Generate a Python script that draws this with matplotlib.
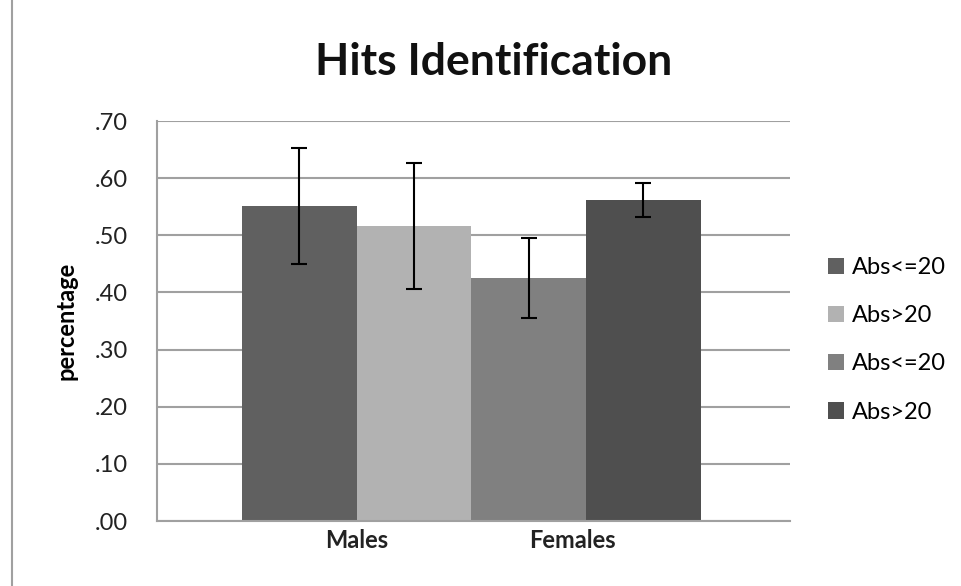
import numpy as np
import matplotlib.pyplot as plt
from matplotlib.lines import Line2D
from matplotlib.patches import Patch

plt.rcParams['font.family'] = ['Lato', 'DejaVu Sans']

# data
series = ['Abs<=20', 'Abs>20', 'Abs<=20', 'Abs>20']
values = [0.551, 0.516, 0.425, 0.562]
errors = [0.101, 0.110, 0.070, 0.030]
colors = ['#606060', '#b2b2b2', '#808080', '#4f4f4f']
groups = ['Males', 'Females']
group_pos = [0.5, 2.38]
yticks = [0.0, 0.1, 0.2, 0.3, 0.4, 0.5, 0.6, 0.7]

fig = plt.figure(figsize=(9.61, 5.86), dpi=100)
ax = fig.add_axes([0.1634, 0.1109, 0.6586, 0.6826])

x = np.arange(len(values))
ax.bar(x, values, width=1.0, color=colors, edgecolor='none', zorder=2)
ax.errorbar(x, values, yerr=errors, fmt='none', ecolor='black',
            elinewidth=1.5, capsize=6, capthick=1.5, zorder=3)

ax.set_xlim(-1.238, 4.276)
ax.set_ylim(0, 0.7)
ax.set_yticks(yticks)
ax.set_yticklabels(['.%02d' % round(t * 100) for t in yticks], fontsize=17, color='#222222')
ax.set_xticks(group_pos)
ax.set_xticklabels(groups, fontsize=17, fontweight='bold', color='#222222')
ax.tick_params(axis='x', length=0, pad=6)
ax.tick_params(axis='y', length=0, pad=21)

ax.yaxis.grid(True, color='#a0a0a0', linewidth=1.5, zorder=0)
ax.set_axisbelow(True)
for s in ['top', 'right']:
    ax.spines[s].set_visible(False)
for s in ['left', 'bottom']:
    ax.spines[s].set_color('#a0a0a0')
    ax.spines[s].set_linewidth(1.5)

ax.set_ylabel('percentage', fontsize=17, fontweight='bold', labelpad=12)
fig.text(0.514, 0.895, 'Hits Identification', ha='center', va='center',
         fontsize=32, fontweight='bold', color='#111111')

handles = [Patch(facecolor=c, edgecolor='none') for c in colors]
fig.legend(handles, series, loc='center left', bbox_to_anchor=(0.839, 0.42),
           frameon=False, fontsize=17, handlelength=0.7, handleheight=0.7,
           labelspacing=1.15, handletextpad=0.35)

# thin frame line at the left of the picture
fig.add_artist(Line2D([0.0125, 0.0125], [0, 1], color='#a0a0a0', linewidth=1.5))

plt.savefig('out.png', dpi=100)
